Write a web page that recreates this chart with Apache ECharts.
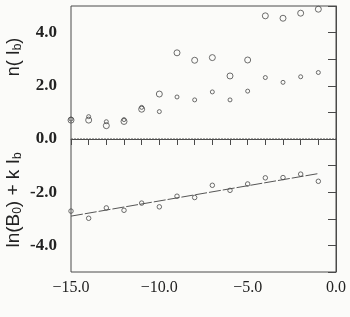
<!DOCTYPE html>
<html><head><meta charset="utf-8">
<script src="https://cdn.jsdelivr.net/npm/echarts@6/dist/echarts.min.js"></script>
<style>html,body{margin:0;padding:0;background:#fbfbf9}#c{width:350px;height:317px}</style>
</head><body><div id="c"></div>
<script>
const xValues = [-15,-14,-13,-12,-11,-10,-9,-8,-7,-6,-5,-4,-3,-2,-1];
const nLarge = [0.71,0.71,0.50,0.66,1.12,1.69,3.24,2.96,3.06,2.37,2.97,4.63,4.54,4.73,4.88];
const nSmall = [0.75,0.84,0.65,0.73,1.19,1.03,1.58,1.47,1.77,1.47,1.80,2.31,2.13,2.34,2.50];
const lnB = [-2.71,-2.98,-2.59,-2.68,-2.41,-2.55,-2.15,-2.20,-1.74,-1.93,-1.69,-1.46,-1.45,-1.32,-1.59];
const fitLine = [[-15,-2.90],[-1,-1.30]];
const zeroLine = [[-15,0],[0,0]];
const xTicks = [-15,-10,-5,0];
const yTicks = [-4,-2,0,2,4];

const ink = '#4a4a4a';
const pairs = v => xValues.map((x,i)=>[x,v[i]]);
const chart = echarts.init(document.getElementById('c'));
chart.setOption({
  backgroundColor:'#fbfbf9',
  animation:false,
  grid:{left:71,right:14,top:6,bottom:45,show:true,borderColor:ink,borderWidth:1,backgroundColor:'transparent'},
  xAxis:{type:'value',min:-15,max:0,interval:5,
    axisLine:{show:true,lineStyle:{color:ink,width:1}},
    axisTick:{show:true,length:6,inside:false,lineStyle:{color:ink}},
    minorTick:{show:true,splitNumber:5,length:6,lineStyle:{color:ink}},
    splitLine:{show:false},
    axisLabel:{margin:8,fontFamily:'Liberation Serif',fontSize:16,color:'#222',
      formatter:v=> xTicks.includes(v)?((v<0?'\u2212':'')+Math.abs(v).toFixed(1)):''}},
  yAxis:{type:'value',min:-5,max:5,interval:1,
    axisLine:{show:true,lineStyle:{color:ink,width:1}},
    axisTick:{show:true,length:8,lineStyle:{color:ink}},
    splitLine:{show:false},
    axisLabel:{margin:14,fontFamily:'Liberation Serif',fontWeight:'bold',fontSize:17,color:'#222',
      formatter:v=> yTicks.includes(v)?(v.toFixed(1)):''}},
  series:[
    {type:'line',data:zeroLine,symbol:'none',lineStyle:{color:'#555',width:1,type:[2,1]},z:1},
    {type:'line',data:fitLine,symbol:'none',lineStyle:{color:'#555',width:1,type:[12,2]},z:1},
    {type:'scatter',data:pairs(nLarge),symbol:'circle',symbolSize:6,
      itemStyle:{color:'transparent',borderColor:ink,borderWidth:1}},
    {type:'scatter',data:pairs(nSmall),symbol:'circle',symbolSize:4,
      itemStyle:{color:'transparent',borderColor:ink,borderWidth:1}},
    {type:'scatter',data:pairs(lnB),symbol:'circle',symbolSize:4.5,
      itemStyle:{color:'transparent',borderColor:ink,borderWidth:1}}
  ],
  graphic:[
    {type:'text',x:14,y:200,rotation:Math.PI/2,
      style:{text:'{a|ln(B}{s|0}{a|) + k I}{s|b}',align:'center',verticalAlign:'middle',
        rich:{a:{fontFamily:'Liberation Sans',fontSize:19,fill:'#222'},
              s:{fontFamily:'Liberation Sans',fontSize:12,fill:'#222',verticalAlign:'bottom',padding:[8,0,0,0]}}}},
    {type:'text',x:14,y:57,rotation:Math.PI/2,
      style:{text:'{a|n( I}{s|b}{a|)}',align:'center',verticalAlign:'middle',
        rich:{a:{fontFamily:'Liberation Sans',fontSize:18,fill:'#222'},
              s:{fontFamily:'Liberation Sans',fontSize:12,fill:'#222',verticalAlign:'bottom',padding:[8,0,0,0]}}}}
  ]
});
</script></body></html>
